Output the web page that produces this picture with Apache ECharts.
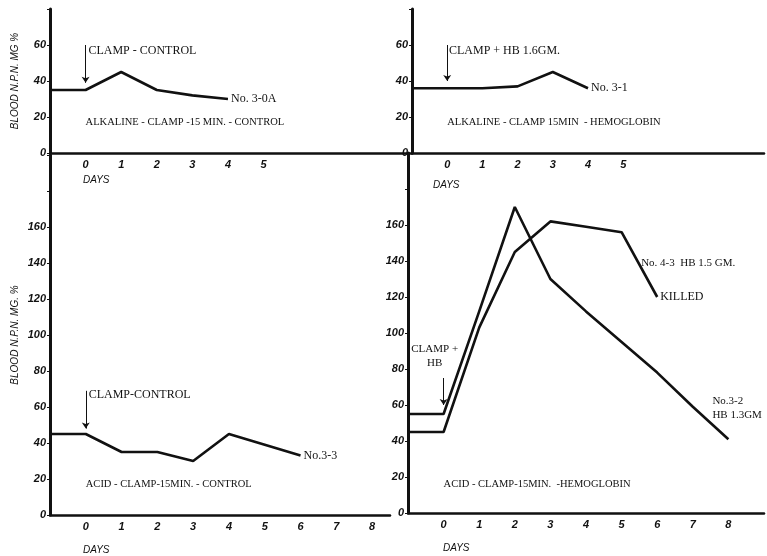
<!DOCTYPE html>
<html>
<head>
<meta charset="utf-8">
<script src="https://cdn.jsdelivr.net/npm/echarts@6/dist/echarts.min.js"></script>
<style>
    html, body { margin: 0; background: #fff; }
    #chart { width: 767px; height: 556px; }
</style>
</head>
<body>
<div id="chart"></div>
<script>
    // alkaline - clamp 15 min - control
    const days30A = [-1, 0, 1, 2, 3, 4];
    const npn30A = [35, 35, 45, 35, 32, 30];
    // alkaline - clamp 15 min - hemoglobin
    const days31 = [-1, 0, 1, 2, 3, 4];
    const npn31 = [36, 36, 36, 37, 45, 36];
    // acid - clamp 15 min - control
    const days33 = [-1, 0, 1, 2, 3, 4, 5, 6];
    const npn33 = [45, 45, 35, 35, 30, 45, 39, 33];
    // acid - clamp 15 min - hemoglobin
    const days32 = [-1, 0, 1, 2, 3, 4, 5, 6, 7, 8];
    const npn32 = [55, 55, 112, 170, 130, 112, 95, 78, 59, 41];
    const days43 = [-1, 0, 1, 2, 3, 4, 5, 6];
    const npn43 = [45, 45, 103, 145, 162, 159, 156, 120];

    // tick labels that are printed on each axis
    const topDayLabels = [0, 1, 2, 3, 4, 5];
    const bottomDayLabels = [0, 1, 2, 3, 4, 5, 6, 7, 8];
    const topNpnLabels = [0, 20, 40, 60];
    const bottomNpnLabels = [0, 20, 40, 60, 80, 100, 120, 140, 160];

    const ink = '#111';
    const serif = '"Liberation Serif", "DejaVu Serif", serif';
    const hand = '"Liberation Sans", "DejaVu Sans", sans-serif';

    function pairs (xs, ys) {
        return xs.map((x, i) => [x, ys[i]]);
    }
    function note (text, x, y, size, pos) {
        return {
            coord: [x, y],
            label: { formatter: text, fontSize: size || 12, position: pos || 'right', distance: 0 }
        };
    }
    function arrow (x, y1, y2) {
        return [{ coord: [x, y1] }, { coord: [x, y2] }];
    }

    function xAxis (idx, min, max, labels) {
        return {
            type: 'value', gridIndex: idx, min: min, max: max, interval: 1,
            axisLine: { lineStyle: { color: ink, width: 2.5 } },
            axisTick: { show: false },
            splitLine: { show: false },
            axisLabel: {
                color: ink, fontFamily: hand, fontStyle: 'italic', fontWeight: 'bold', fontSize: 11, margin: 6,
                showMinLabel: true, showMaxLabel: true,
                formatter: v => labels.indexOf(v) >= 0 ? String(v) : ''
            }
        };
    }
    function yAxis (idx, min, max, labels, name) {
        return {
            type: 'value', gridIndex: idx, min: min, max: max, interval: 20,
            name: name || '', nameLocation: 'middle', nameGap: 30,
            nameTextStyle: { color: ink, fontFamily: hand, fontStyle: 'italic', fontSize: 10 },
            axisLine: { show: true, onZero: false, lineStyle: { color: ink, width: 3 } },
            axisTick: { show: true, length: 3, lineStyle: { color: ink, width: 1 } },
            splitLine: { show: false },
            axisLabel: {
                color: ink, fontFamily: hand, fontStyle: 'italic', fontWeight: 'bold', fontSize: 11, margin: 4,
                formatter: v => labels.indexOf(v) >= 0 ? String(v) : ''
            }
        };
    }
    function line (idx, data, endText, notes, arrows) {
        return {
            type: 'line', xAxisIndex: idx, yAxisIndex: idx, data: data,
            symbol: 'none', silent: true,
            lineStyle: { color: ink, width: 2.6 },
            endLabel: {
                show: !!endText, formatter: endText || '', color: ink,
                fontFamily: serif, fontSize: 12, distance: 3
            },
            markPoint: {
                symbol: 'circle', symbolSize: 0, silent: true,
                label: { show: true, color: ink, fontFamily: serif, lineHeight: 14 },
                data: notes || []
            },
            markLine: {
                silent: true, symbol: ['none', 'arrow'], symbolSize: 6,
                label: { show: false },
                lineStyle: { color: ink, width: 1, type: 'solid' },
                data: arrows || []
            }
        };
    }
    function days (left, top) {
        return {
            type: 'text', left: left, top: top,
            style: { text: 'DAYS', fill: ink, font: 'italic 10px ' + hand }
        };
    }

    const chart = echarts.init(document.getElementById('chart'));
    chart.setOption({
        animation: false,
        backgroundColor: '#fff',
        grid: [
            { left: 50, top: 9, width: 362, height: 144 },
            { left: 412, top: 9, width: 355, height: 144 },
            { left: 50, top: 155, width: 340, height: 360 },
            { left: 408, top: 153, width: 359, height: 360 }
        ],
        xAxis: [
            xAxis(0, -1, 9.17, topDayLabels),
            xAxis(1, -1, 9, topDayLabels),
            xAxis(2, -1, 8.5, bottomDayLabels),
            xAxis(3, -1, 9, bottomDayLabels)
        ],
        yAxis: [
            yAxis(0, 0, 80, topNpnLabels, 'BLOOD N.P.N. MG %'),
            yAxis(1, 0, 80, topNpnLabels),
            yAxis(2, 0, 200, bottomNpnLabels, 'BLOOD N.P.N. MG. %'),
            yAxis(3, 0, 200, bottomNpnLabels)
        ],
        series: [
            line(0, pairs(days30A, npn30A), 'No. 3-0A', [
                note('CLAMP - CONTROL', 0.08, 57),
                note('ALKALINE - CLAMP -15 MIN. - CONTROL', 0, 17, 10.5)
            ], [arrow(0, 60, 39)]),
            line(1, pairs(days31, npn31), 'No. 3-1', [
                note('CLAMP + HB 1.6GM.', 0.05, 57),
                note('ALKALINE - CLAMP 15MIN  - HEMOGLOBIN', 0, 17, 10.5)
            ], [arrow(0, 60, 40)]),
            line(2, pairs(days33, npn33), 'No.3-3', [
                note('CLAMP-CONTROL', 0.08, 67),
                note('ACID - CLAMP-15MIN. - CONTROL', 0, 17, 10.5)
            ], [arrow(0, 69, 48)]),
            line(3, pairs(days32, npn32), '', [
                note('No.3-2\nHB 1.3GM', 7.55, 58, 11),
                note('ACID - CLAMP-15MIN.  -HEMOGLOBIN', 0, 16, 10.5)
            ], [arrow(0, 75, 60)]),
            line(3, pairs(days43, npn43), 'KILLED', [
                note('CLAMP +\nHB', -0.25, 87, 11, 'inside'),
                note('No. 4-3  HB 1.5 GM.', 5.55, 139, 11)
            ])
        ],
        graphic: [
            days(83, 175),
            days(433, 180),
            days(83, 545),
            days(443, 543)
        ]
    });
</script>
</body>
</html>
